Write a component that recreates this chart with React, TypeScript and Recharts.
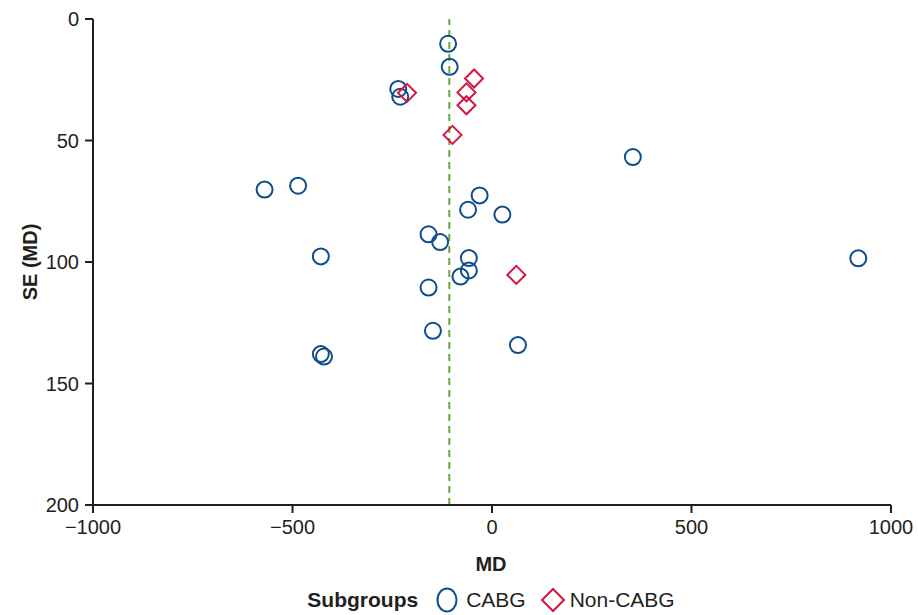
import React from "react";
import {
  Label,
  ReferenceLine,
  Scatter,
  ScatterChart,
  XAxis,
  YAxis,
} from "recharts";

// Funnel plot: mean difference vs its standard error, per study
const cabgMD = [-110, -106, -235, -230, 353, -570, -486, -31, -60, 26, -159, -130, -429, -58, 918, -58, -79, -159, -148, 65, -429, -421];
const cabgSE = [10.2, 19.7, 28.8, 32.0, 56.8, 70.2, 68.6, 72.6, 78.5, 80.5, 88.6, 91.8, 97.7, 98.4, 98.5, 103.5, 106, 110.5, 128.3, 134.2, 137.9, 138.9];

const nonCabgMD = [-45, -213, -64, -64, -99, 61];
const nonCabgSE = [24.5, 30.4, 30.2, 35.5, 47.7, 105.3];

const pooledMD = -107;

const xTicks = [-1000, -500, 0, 500, 1000];
const yTicks = [0, 50, 100, 150, 200];

const BLUE = "#0d4d8a";
const RED = "#d3153f";
const GREEN = "#6aa83c";
const AXIS = "#231f20";
const FONT = "'Liberation Sans', Arial, sans-serif";

const cabg = cabgMD.map((md, i) => ({ md, se: cabgSE[i] }));
const nonCabg = nonCabgMD.map((md, i) => ({ md, se: nonCabgSE[i] }));

const fmt = (v: number) => String(v).replace("-", "\u2212");

const CircleMark = (props: any) => (
  <circle cx={props.cx} cy={props.cy} r={8} fill="none" stroke={BLUE} strokeWidth={2} />
);

const DiamondMark = (props: any) => {
  const { cx, cy } = props;
  const d = 9;
  return (
    <polygon
      points={`${cx},${cy - d} ${cx + d},${cy} ${cx},${cy + d} ${cx - d},${cy}`}
      fill="none"
      stroke={RED}
      strokeWidth={2}
    />
  );
};

const tickStyle = { fontSize: 20, fill: AXIS, fontFamily: FONT };

export default function App() {
  return (
    <div style={{ position: "absolute", left: 0, top: 0, width: 918, height: 615, background: "#fff", fontFamily: FONT }}>
      <ScatterChart width={918} height={615} margin={{ top: 19, right: 27, left: 33, bottom: 80 }}>
        <XAxis
          type="number"
          dataKey="md"
          domain={[-1000, 1000]}
          ticks={xTicks}
          tickFormatter={fmt}
          stroke={AXIS}
          strokeWidth={2}
          tickSize={8}
          tickMargin={7}
          height={30}
          tick={tickStyle}
          interval={0}
        >
          <Label
            content={() => (
              <text x={491} y={571} textAnchor="middle" fontSize={20} fontWeight="bold" fill={AXIS} fontFamily={FONT}>
                MD
              </text>
            )}
          />
        </XAxis>
        <YAxis
          type="number"
          dataKey="se"
          domain={[0, 200]}
          reversed
          ticks={yTicks}
          stroke={AXIS}
          strokeWidth={2}
          tickSize={8}
          tickMargin={6}
          width={60}
          tick={tickStyle}
          interval={0}
        >
          <Label
            content={() => (
              <text
                x={37}
                y={262}
                transform="rotate(-90 37 262)"
                textAnchor="middle"
                fontSize={20}
                fontWeight="bold"
                fill={AXIS}
                fontFamily={FONT}
              >
                SE (MD)
              </text>
            )}
          />
        </YAxis>
        <ReferenceLine x={pooledMD} stroke={GREEN} strokeWidth={2} strokeDasharray="7 5" />
        <Scatter name="CABG" data={cabg} shape={CircleMark} isAnimationActive={false} />
        <Scatter name="Non-CABG" data={nonCabg} shape={DiamondMark} isAnimationActive={false} />
      </ScatterChart>
      <div
        style={{
          position: "absolute",
          top: 586,
          left: 0,
          width: 982,
          display: "flex",
          justifyContent: "center",
          alignItems: "center",
          fontSize: 21,
          color: AXIS,
        }}
      >
        <span style={{ fontWeight: "bold", marginRight: 16 }}>Subgroups</span>
        <svg width={26} height={28} style={{ marginRight: 6 }}>
          <ellipse cx={13} cy={14} rx={9.5} ry={11.5} fill="none" stroke={BLUE} strokeWidth={2} />
        </svg>
        <span style={{ marginRight: 14 }}>CABG</span>
        <svg width={26} height={28} style={{ marginRight: 4 }}>
          <polygon points="13,3 24,14 13,25 2,14" fill="none" stroke={RED} strokeWidth={2} />
        </svg>
        <span>Non-CABG</span>
      </div>
    </div>
  );
}
